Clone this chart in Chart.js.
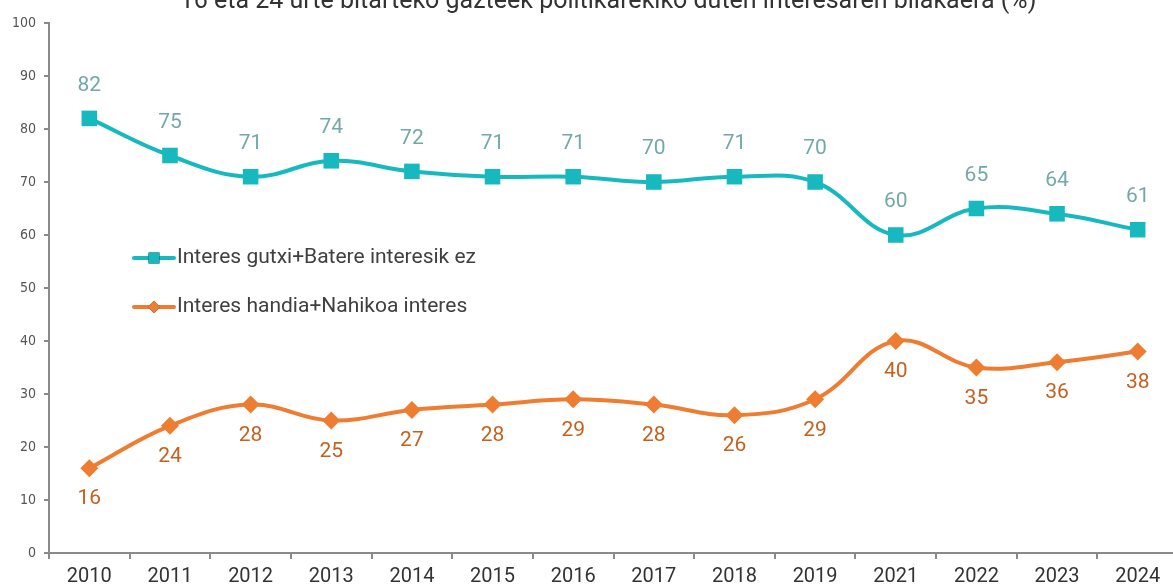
<!DOCTYPE html>
<html>
<head>
<meta charset="utf-8">
<script src="https://cdn.jsdelivr.net/npm/chart.js@4"></script>
<style>
  html, body { margin: 0; padding: 0; background: #fff; overflow: hidden; }
  #wrap { position: relative; width: 1189px; height: 588px; }
</style>
</head>
<body>
<div id="wrap"><canvas id="myChart"></canvas></div>
<script>
// urteak
const years = ['2010','2011','2012','2013','2014','2015','2016','2017','2018','2019','2021','2022','2023','2024']
// interes gutxi edo batere ez
const lowInterest = [82,75,71,74,72,71,71,70,71,70,60,65,64,61]
// interes handia edo nahikoa
const highInterest = [16,24,28,25,27,28,29,28,26,29,40,35,36,38]
const yTicks = [0,10,20,30,40,50,60,70,80,90,100]
const title = '16 eta 24 urte bitarteko gazteek politikarekiko duten interesaren bilakaera (%)'

const teal = '#17B9BF'
const orange = '#EE7D31'

// zenbakiak puntuen gainean / azpian
const labelsPlugin = {
    id: 'pointLabels',
    afterDatasetsDraw(chart) {
        const ctx = chart.ctx
        ctx.save()
        ctx.font = '21px Roboto'
        ctx.textAlign = 'center'
        ctx.textBaseline = 'middle'
        chart.data.datasets.forEach((ds, i) => {
            const meta = chart.getDatasetMeta(i)
            meta.data.forEach((pt, j) => {
                ctx.fillStyle = ds.labelColor
                ctx.fillText(ds.data[j], pt.x, pt.y + ds.labelShift)
            })
        })
        ctx.restore()
    }
}

// legenda grafikoaren barruan + izenburua
const legendPlugin = {
    id: 'innerLegend',
    afterDraw(chart) {
        const ctx = chart.ctx
        const rows = [258, 307]
        ctx.save()
        chart.data.datasets.forEach((ds, i) => {
            const y = rows[i]
            ctx.strokeStyle = ds.borderColor
            ctx.lineWidth = 4
            ctx.lineCap = 'round'
            ctx.beginPath()
            ctx.moveTo(134, y)
            ctx.lineTo(174, y)
            ctx.stroke()
            Chart.helpers.drawPoint(ctx, {pointStyle: ds.pointStyle, radius: ds.pointRadius * 0.7, borderWidth: 0}, 154, y)
            ctx.fillStyle = ds.borderColor
            ctx.fill()
            ctx.fillStyle = '#404040'
            ctx.font = '21px Roboto'
            ctx.textAlign = 'left'
            ctx.textBaseline = 'middle'
            ctx.fillText(ds.label, 177, y)
        })
        ctx.fillStyle = '#333'
        ctx.font = '25px Roboto'
        ctx.textAlign = 'center'
        ctx.textBaseline = 'alphabetic'
        ctx.fillText(title, 608, 8)
        ctx.restore()
    }
}

const ctx = document.getElementById('myChart').getContext('2d')
const myChart = new Chart(ctx, {
    type: 'line',
    data: {
        labels: years,
        datasets: [{
            label: 'Interes gutxi+Batere interesik ez',
            data: lowInterest,
            borderColor: teal,
            backgroundColor: teal,
            borderWidth: 4,
            pointStyle: 'rect',
            pointRadius: 11,
            pointBorderWidth: 0,
            tension: 0.4,
            labelColor: '#72A9A8',
            labelShift: -33
        },{
            label: 'Interes handia+Nahikoa interes',
            data: highInterest,
            borderColor: orange,
            backgroundColor: orange,
            borderWidth: 4,
            pointStyle: 'rectRot',
            pointRadius: 9,
            pointBorderWidth: 0,
            tension: 0.4,
            labelColor: '#C4611F',
            labelShift: 31
        }]
    },
    options: {
        responsive: true,
        maintainAspectRatio: false,
        animation: false,
        layout: { padding: { top: 23, right: 0, left: 0, bottom: 0 } },
        plugins: {
            legend: { display: false },
            tooltip: { enabled: false }
        },
        scales: {
            x: {
                offset: true,
                afterFit(axis) { axis.height = 35 },
                grid: { offset: true, drawOnChartArea: false, drawTicks: true, tickLength: 6, color: '#8a8a8a', lineWidth: 2 },
                border: { color: '#8a8a8a', width: 2 },
                ticks: { color: '#333', font: { family: 'Roboto', size: 20 }, padding: 6, maxRotation: 0 }
            },
            y: {
                min: 0,
                max: 100,
                afterBuildTicks(axis) { axis.ticks = yTicks.map(v => ({value: v})) },
                afterFit(axis) { axis.width = 49 },
                grid: { drawOnChartArea: false, tickLength: 5, color: '#8a8a8a', lineWidth: 2 },
                border: { color: '#8a8a8a', width: 2 },
                ticks: { color: '#555', font: { family: 'DejaVu Sans Condensed', size: 14 }, padding: 8 }
            }
        }
    },
    plugins: [labelsPlugin, legendPlugin]
})
</script>
</body>
</html>
